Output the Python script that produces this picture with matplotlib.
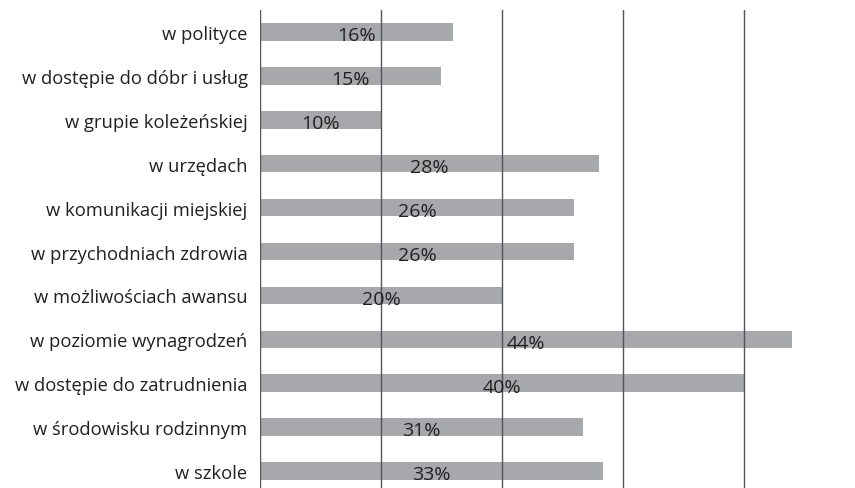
import matplotlib.pyplot as plt

# kategorie od góry do dołu
kategorie = ['w polityce', 'w dostępie do dóbr i usług', 'w grupie koleżeńskiej',
             'w urzędach', 'w komunikacji miejskiej', 'w przychodniach zdrowia',
             'w możliwościach awansu', 'w poziomie wynagrodzeń',
             'w dostępie do zatrudnienia', 'w środowisku rodzinnym', 'w szkole']
# długości słupków
dlugosci = [16, 15, 10, 28, 26, 26, 20, 44, 40, 26.7, 28.4]
# podpisy słupków
podpisy = ['16%', '15%', '10%', '28%', '26%', '26%', '20%', '44%', '40%', '31%', '33%']

plt.rcParams['font.family'] = ['Open Sans', 'DejaVu Sans']
kolor_tekstu = '#231f20'

fig = plt.figure(figsize=(8.55, 4.89), dpi=100)
ax = fig.add_axes([260 / 855, -5 / 489, 595 / 855, 483 / 489])

y = range(len(kategorie))
h = 0.4
ax.barh(y, dlugosci, height=h, color='#a7a8ab', zorder=1)

for i, (d, p) in enumerate(zip(dlugosci, podpisy)):
    ax.text(d / 2, i + h / 2 - 0.01, p, ha='center', va='baseline',
            fontsize=14, color=kolor_tekstu, zorder=3)

ax.set_xlim(0, 49.2)
ax.set_ylim(len(kategorie) - 0.5, -0.5)
ax.set_xticks([0, 10, 20, 30, 40])
ax.set_xticklabels([])
ax.set_yticks(list(y))
ax.set_yticklabels(kategorie, fontsize=13.2, color=kolor_tekstu)
ax.tick_params(length=0, pad=9)
ax.grid(axis='x', color='#555555', linewidth=1, zorder=2)
ax.set_axisbelow(False)
for s in ax.spines.values():
    s.set_visible(False)

fig.savefig('out.png', dpi=100)
